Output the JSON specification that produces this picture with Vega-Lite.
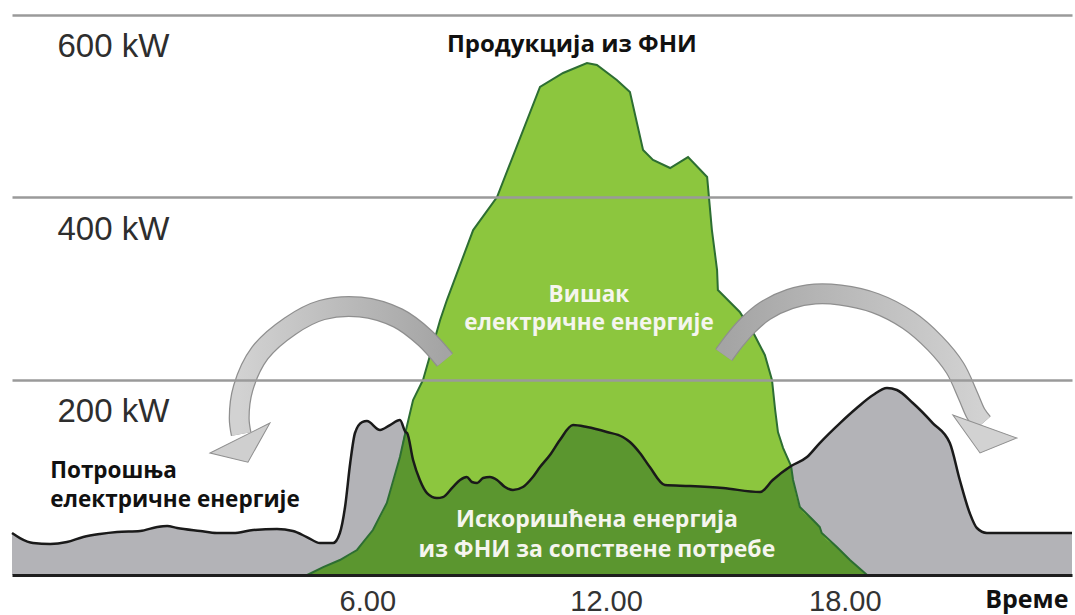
{
  "$schema": "https://vega.github.io/schema/vega-lite/v6.json",
  "width": 1060,
  "height": 575,
  "autosize": {"type": "none"},
  "padding": {"left": 12, "top": 0, "right": 3, "bottom": 40},
  "background": "white",
  "config": {"view": {"stroke": null}},
  "datasets": {
    "load": [
      {"t": -2.93, "kw": 32.3}, {"t": -2.73, "kw": 26.8}, {"t": -2.40, "kw": 21.3}, {"t": -1.97, "kw": 20.2},
      {"t": -1.55, "kw": 22.4}, {"t": -1.14, "kw": 27.9}, {"t": -0.72, "kw": 31.2}, {"t": -0.29, "kw": 33.4},
      {"t": 0.29, "kw": 34.5}, {"t": 0.72, "kw": 38.9}, {"t": 0.97, "kw": 40.0}, {"t": 1.22, "kw": 37.8},
      {"t": 1.80, "kw": 34.5}, {"t": 2.22, "kw": 32.3}, {"t": 2.63, "kw": 32.3}, {"t": 3.13, "kw": 35.6},
      {"t": 3.73, "kw": 36.7}, {"t": 4.13, "kw": 34.5}, {"t": 4.48, "kw": 27.9}, {"t": 4.81, "kw": 21.3},
      {"t": 5.14, "kw": 21.3}, {"t": 5.31, "kw": 32.3}, {"t": 5.44, "kw": 60.8}, {"t": 5.57, "kw": 109.0},
      {"t": 5.69, "kw": 141.9}, {"t": 5.87, "kw": 153.9}, {"t": 5.99, "kw": 155.0}, {"t": 6.32, "kw": 145.2},
      {"t": 6.57, "kw": 150.6}, {"t": 6.82, "kw": 156.1}, {"t": 6.96, "kw": 143.0}, {"t": 7.00, "kw": 141.9},
      {"t": 7.15, "kw": 112.3}, {"t": 7.32, "kw": 90.4}, {"t": 7.50, "kw": 76.1}, {"t": 7.75, "kw": 70.6},
      {"t": 7.90, "kw": 71.7}, {"t": 8.15, "kw": 82.7}, {"t": 8.33, "kw": 90.4}, {"t": 8.50, "kw": 93.7},
      {"t": 8.63, "kw": 88.2}, {"t": 8.76, "kw": 87.1}, {"t": 8.91, "kw": 92.6}, {"t": 9.08, "kw": 93.7},
      {"t": 9.26, "kw": 90.4}, {"t": 9.46, "kw": 82.7}, {"t": 9.66, "kw": 79.4}, {"t": 9.91, "kw": 82.7},
      {"t": 10.16, "kw": 93.7}, {"t": 10.34, "kw": 104.6}, {"t": 10.59, "kw": 117.8}, {"t": 10.84, "kw": 134.2},
      {"t": 11.17, "kw": 150.6}, {"t": 11.52, "kw": 148.4}, {"t": 12.02, "kw": 143.0}, {"t": 12.42, "kw": 137.5},
      {"t": 12.60, "kw": 132.0}, {"t": 12.85, "kw": 120.0}, {"t": 13.10, "kw": 104.6}, {"t": 13.48, "kw": 84.9},
      {"t": 14.11, "kw": 83.8}, {"t": 14.94, "kw": 81.6}, {"t": 15.87, "kw": 77.2}, {"t": 16.19, "kw": 90.4},
      {"t": 16.65, "kw": 105.7}, {"t": 17.05, "kw": 115.6}, {"t": 17.37, "kw": 130.9}, {"t": 17.88, "kw": 152.8},
      {"t": 18.30, "kw": 169.3}, {"t": 18.71, "kw": 183.5}, {"t": 19.06, "kw": 191.2}, {"t": 19.31, "kw": 189.0},
      {"t": 19.71, "kw": 174.8}, {"t": 20.21, "kw": 152.8}, {"t": 20.64, "kw": 130.9}, {"t": 20.89, "kw": 90.4},
      {"t": 21.14, "kw": 54.2}, {"t": 21.32, "kw": 37.8}, {"t": 21.57, "kw": 32.3}, {"t": 23.71, "kw": 32.3}
    ],
    "pv": [
      {"t": 4.49, "kw": -13.7}, {"t": 4.89, "kw": -5.0}, {"t": 5.31, "kw": 2.7}, {"t": 5.74, "kw": 13.7},
      {"t": 6.14, "kw": 35.6}, {"t": 6.49, "kw": 65.2}, {"t": 6.82, "kw": 115.6}, {"t": 6.96, "kw": 143.0},
      {"t": 7.15, "kw": 178.0}, {"t": 7.40, "kw": 200.0}, {"t": 7.83, "kw": 265.7}, {"t": 8.00, "kw": 287.6},
      {"t": 8.66, "kw": 364.3}, {"t": 9.26, "kw": 400.5}, {"t": 10.34, "kw": 521.1}, {"t": 10.92, "kw": 536.4},
      {"t": 11.52, "kw": 547.4}, {"t": 11.77, "kw": 545.2}, {"t": 12.27, "kw": 528.7}, {"t": 12.60, "kw": 515.6},
      {"t": 12.93, "kw": 452.0}, {"t": 13.18, "kw": 441.1}, {"t": 13.61, "kw": 432.3}, {"t": 14.06, "kw": 444.3},
      {"t": 14.54, "kw": 422.4}, {"t": 14.66, "kw": 364.3}, {"t": 14.79, "kw": 320.5}, {"t": 14.81, "kw": 298.6},
      {"t": 15.36, "kw": 274.5}, {"t": 15.73, "kw": 249.3}, {"t": 15.99, "kw": 227.4}, {"t": 16.17, "kw": 200.0},
      {"t": 16.25, "kw": 167.1}, {"t": 16.32, "kw": 143.0}, {"t": 16.45, "kw": 125.4}, {"t": 16.65, "kw": 105.7},
      {"t": 16.70, "kw": 90.4}, {"t": 16.87, "kw": 60.8}, {"t": 17.20, "kw": 46.5}, {"t": 17.37, "kw": 38.9},
      {"t": 17.42, "kw": 32.3}, {"t": 17.80, "kw": 17.0}, {"t": 18.13, "kw": 2.7}, {"t": 18.56, "kw": -13.7}
    ],
    "self": [
      {"t": 4.49, "kw": -13.7}, {"t": 4.89, "kw": -5.0}, {"t": 5.31, "kw": 2.7}, {"t": 5.74, "kw": 13.7},
      {"t": 6.14, "kw": 35.6}, {"t": 6.49, "kw": 65.2}, {"t": 6.82, "kw": 115.6}, {"t": 6.96, "kw": 143.0},
      {"t": 7.00, "kw": 141.9}, {"t": 7.15, "kw": 112.3}, {"t": 7.32, "kw": 90.4}, {"t": 7.50, "kw": 76.1},
      {"t": 7.75, "kw": 70.6}, {"t": 7.90, "kw": 71.7}, {"t": 8.15, "kw": 82.7}, {"t": 8.33, "kw": 90.4},
      {"t": 8.50, "kw": 93.7}, {"t": 8.63, "kw": 88.2}, {"t": 8.76, "kw": 87.1}, {"t": 8.91, "kw": 92.6},
      {"t": 9.08, "kw": 93.7}, {"t": 9.26, "kw": 90.4}, {"t": 9.46, "kw": 82.7}, {"t": 9.66, "kw": 79.4},
      {"t": 9.91, "kw": 82.7}, {"t": 10.16, "kw": 93.7}, {"t": 10.34, "kw": 104.6}, {"t": 10.59, "kw": 117.8},
      {"t": 10.84, "kw": 134.2}, {"t": 11.17, "kw": 150.6}, {"t": 11.52, "kw": 148.4}, {"t": 12.02, "kw": 143.0},
      {"t": 12.42, "kw": 137.5}, {"t": 12.60, "kw": 132.0}, {"t": 12.85, "kw": 120.0}, {"t": 13.10, "kw": 104.6},
      {"t": 13.48, "kw": 84.9}, {"t": 14.11, "kw": 83.8}, {"t": 14.94, "kw": 81.6}, {"t": 15.87, "kw": 77.2},
      {"t": 16.19, "kw": 90.4}, {"t": 16.65, "kw": 105.7}, {"t": 16.70, "kw": 90.4}, {"t": 16.87, "kw": 60.8},
      {"t": 17.20, "kw": 46.5}, {"t": 17.37, "kw": 38.9}, {"t": 17.42, "kw": 32.3}, {"t": 17.80, "kw": 17.0},
      {"t": 18.13, "kw": 2.7}, {"t": 18.56, "kw": -13.7}
    ],
    "arrows": [
      {"arrow": "L", "i": 0, "t": 7.95, "kw": 221.9}, {"arrow": "L", "i": 1, "t": 7.45, "kw": 246.0},
      {"arrow": "L", "i": 2, "t": 6.77, "kw": 267.9}, {"arrow": "L", "i": 3, "t": 5.82, "kw": 280.0},
      {"arrow": "L", "i": 4, "t": 4.86, "kw": 276.7}, {"arrow": "L", "i": 5, "t": 4.06, "kw": 259.1},
      {"arrow": "L", "i": 6, "t": 3.30, "kw": 229.5}, {"arrow": "L", "i": 7, "t": 2.88, "kw": 191.2},
      {"arrow": "L", "i": 8, "t": 2.78, "kw": 158.3}, {"arrow": "L", "i": 9, "t": 2.83, "kw": 140.8},
      {"arrow": "R", "i": 0, "t": 14.96, "kw": 227.4}, {"arrow": "R", "i": 1, "t": 15.24, "kw": 243.8},
      {"arrow": "R", "i": 2, "t": 15.57, "kw": 260.2}, {"arrow": "R", "i": 3, "t": 15.99, "kw": 275.6},
      {"arrow": "R", "i": 4, "t": 16.62, "kw": 288.7}, {"arrow": "R", "i": 5, "t": 17.25, "kw": 294.2},
      {"arrow": "R", "i": 6, "t": 17.88, "kw": 293.1}, {"arrow": "R", "i": 7, "t": 18.76, "kw": 284.3},
      {"arrow": "R", "i": 8, "t": 19.59, "kw": 265.7}, {"arrow": "R", "i": 9, "t": 20.26, "kw": 240.5},
      {"arrow": "R", "i": 10, "t": 20.77, "kw": 213.1}, {"arrow": "R", "i": 11, "t": 21.09, "kw": 183.5},
      {"arrow": "R", "i": 12, "t": 21.30, "kw": 162.7}, {"arrow": "R", "i": 13, "t": 21.47, "kw": 152.8}
    ],
    "heads": [
      {"arrow": "L", "t": 2.80, "kw": 136.4},
      {"arrow": "R", "t": 21.52, "kw": 149.0}
    ],
    "labels": [
      {"name": "title", "t": 11.14, "kw": 559.4, "text": "Продукција из ФНИ"},
      {"name": "surplus", "t": 11.57, "kw": 285.4, "text": "Вишак\nелектричне енергије"},
      {"name": "used", "t": 11.77, "kw": 38.9, "text": "Искоришћена енергија\nиз ФНИ за сопствене потребе"},
      {"name": "load", "t": -1.97, "kw": 92.6, "text": "Потрошња\nелектричне енергије"}
    ]
  },
  "encoding": {
    "x": {
      "field": "t", "type": "quantitative",
      "scale": {"domain": [-2.93, 23.71], "nice": false, "zero": false},
      "axis": {
        "values": [6, 12, 18], "labelExpr": "datum.value + '.00'",
        "title": "Време", "grid": false, "ticks": false,
        "domain": true, "domainColor": "#1e1e1e", "domainWidth": 3,
        "labelFont": "Liberation Sans", "labelFontSize": 29, "labelColor": "#333333", "labelPadding": 12,
        "titleFont": "Open Sans", "titleFontWeight": "bold", "titleFontSize": 25, "titleColor": "#111111",
        "titleX": 1056, "titleY": 32, "titleAlign": "right", "titleBaseline": "alphabetic",
        "zindex": 1
      }
    },
    "y": {
      "field": "kw", "type": "quantitative",
      "scale": {"domain": [-13.7, 616.4], "nice": false, "zero": false},
      "axis": {
        "values": [200, 400, 600], "labelExpr": "datum.value + ' kW'", "title": null,
        "grid": true, "gridColor": "#9a9a9a", "gridWidth": 2.5,
        "ticks": false, "domain": false,
        "labelAlign": "left", "labelPadding": -45, "labelBaseline": "alphabetic", "labelOffset": 42,
        "labelFont": "Liberation Sans", "labelFontSize": 33, "labelColor": "#2e2e2e",
        "zindex": 1
      }
    }
  },
  "layer": [
    {"data": {"name": "load"}, "mark": {"type": "area", "color": "#b3b3b7", "interpolate": "monotone"}, "encoding": {"y2": {"datum": -13.7}}},
    {"data": {"name": "pv"}, "mark": {"type": "area", "color": "#8cc63e", "interpolate": "linear"}, "encoding": {"y2": {"datum": -13.7}}},
    {"data": {"name": "self"}, "mark": {"type": "area", "color": "#5b962f", "interpolate": "monotone"}, "encoding": {"y2": {"datum": -13.7}}},
    {"data": {"name": "pv"}, "mark": {"type": "line", "color": "#2d6e32", "strokeWidth": 2, "interpolate": "linear"}, "encoding": {}},
    {"data": {"name": "load"}, "mark": {"type": "line", "color": "#1a1a1a", "strokeWidth": 2.5, "interpolate": "monotone"}, "encoding": {}},
    {
      "data": {"name": "arrows"},
      "transform": [{"filter": "datum.arrow == 'L'"}],
      "mark": {"type": "line", "color": "#8f8f8f", "strokeWidth": 21, "strokeCap": "butt", "interpolate": "catmull-rom"},
      "encoding": {"order": {"field": "i", "type": "quantitative"}}
    },
    {
      "data": {"name": "arrows"},
      "transform": [{"filter": "datum.arrow == 'L'"}],
      "mark": {"type": "line", "strokeWidth": 18.5, "strokeCap": "butt", "interpolate": "catmull-rom",
        "stroke": {"gradient": "linear", "x1": 0, "y1": 0, "x2": 1, "y2": 0,
          "stops": [{"offset": 0, "color": "#d2d2d2"}, {"offset": 1, "color": "#a4a4a4"}]}},
      "encoding": {"order": {"field": "i", "type": "quantitative"}}
    },
    {
      "data": {"name": "arrows"},
      "transform": [{"filter": "datum.arrow == 'R'"}],
      "mark": {"type": "line", "color": "#8f8f8f", "strokeWidth": 21, "strokeCap": "butt", "interpolate": "catmull-rom"},
      "encoding": {"order": {"field": "i", "type": "quantitative"}}
    },
    {
      "data": {"name": "arrows"},
      "transform": [{"filter": "datum.arrow == 'R'"}],
      "mark": {"type": "line", "strokeWidth": 18.5, "strokeCap": "butt", "interpolate": "catmull-rom",
        "stroke": {"gradient": "linear", "x1": 0, "y1": 0, "x2": 1, "y2": 0,
          "stops": [{"offset": 0, "color": "#a4a4a4"}, {"offset": 1, "color": "#d2d2d2"}]}},
      "encoding": {"order": {"field": "i", "type": "quantitative"}}
    },
    {
      "data": {"name": "heads"},
      "transform": [{"filter": "datum.arrow == 'L'"}],
      "mark": {"type": "point", "shape": "M -1 0 L 1 0 L -0.11 0.75 Z", "size": 4489, "angle": -26.6,
        "filled": true, "fill": "#cfcfcf", "stroke": "#8f8f8f", "strokeWidth": 1, "opacity": 1},
      "encoding": {}
    },
    {
      "data": {"name": "heads"},
      "transform": [{"filter": "datum.arrow == 'R'"}],
      "mark": {"type": "point", "shape": "M -1 0 L 1 0 L 0.13 0.78 Z", "size": 4624, "angle": 19.8,
        "filled": true, "fill": "#d2d2d2", "stroke": "#8f8f8f", "strokeWidth": 1, "opacity": 1},
      "encoding": {}
    },
    {
      "data": {"name": "labels"},
      "transform": [{"filter": "datum.name == 'title'"}],
      "mark": {"type": "text", "font": "Open Sans", "fontWeight": "bold", "fontSize": 24, "align": "center", "baseline": "alphabetic", "color": "#111111"},
      "encoding": {"text": {"field": "text"}}
    },
    {
      "data": {"name": "labels"},
      "transform": [{"filter": "datum.name == 'surplus'"}],
      "mark": {"type": "text", "font": "Open Sans", "fontWeight": "bold", "fontSize": 22.5, "align": "center", "baseline": "alphabetic", "color": "#f5f5ee", "lineBreak": "\n", "lineHeight": 28},
      "encoding": {"text": {"field": "text"}}
    },
    {
      "data": {"name": "labels"},
      "transform": [{"filter": "datum.name == 'used'"}],
      "mark": {"type": "text", "font": "Open Sans", "fontWeight": "bold", "fontSize": 23, "align": "center", "baseline": "alphabetic", "color": "#f5f5ee", "lineBreak": "\n", "lineHeight": 30},
      "encoding": {"text": {"field": "text"}}
    },
    {
      "data": {"name": "labels"},
      "transform": [{"filter": "datum.name == 'load'"}],
      "mark": {"type": "text", "font": "Open Sans", "fontWeight": "bold", "fontSize": 22.5, "align": "left", "baseline": "alphabetic", "color": "#111111", "lineBreak": "\n", "lineHeight": 29},
      "encoding": {"text": {"field": "text"}}
    }
  ]
}
